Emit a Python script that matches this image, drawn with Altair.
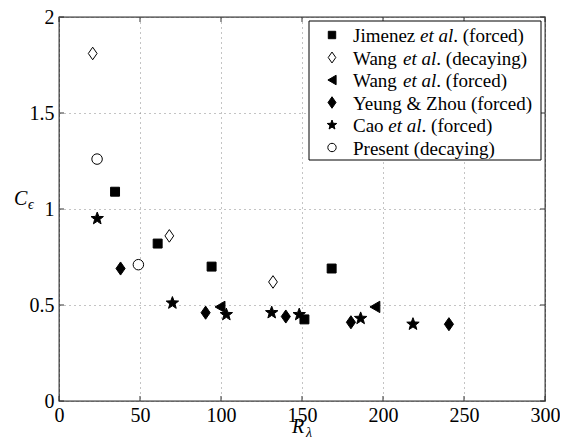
import math
import altair as alt
import pandas as pd

FONT = "'Liberation Serif', 'Times New Roman', 'DejaVu Serif', serif"
W, H = 486, 384

# ---- data ----
jim_x = [34.6, 60.9, 94.2, 151.5, 168.3]
jim_y = [1.09, 0.82, 0.70, 0.425, 0.69]
wdec_x = [20.8, 68.1, 132.1]
wdec_y = [1.81, 0.86, 0.62]
wfor_x = [99.4, 195.0]
wfor_y = [0.49, 0.49]
yz_x = [38.0, 90.5, 140.0, 180.2, 240.7]
yz_y = [0.69, 0.46, 0.44, 0.41, 0.40]
cao_x = [23.6, 70.0, 103.3, 131.3, 148.3, 186.2, 218.5]
cao_y = [0.95, 0.51, 0.45, 0.46, 0.45, 0.43, 0.40]
pres_x = [23.5, 49.0]
pres_y = [1.26, 0.71]

x_ticks = [0, 50, 100, 150, 200, 250, 300]
y_ticks = [0, 0.5, 1, 1.5, 2]

legend_rows = [
    [("Jimenez ", "normal"), ("et al", "italic"), (". (forced)", "normal")],
    [("Wang ", "normal"), ("et al", "italic"), (". (decaying)", "normal")],
    [("Wang ", "normal"), ("et al", "italic"), (". (forced)", "normal")],
    [("Yeung & Zhou (forced)", "normal")],
    [("Cao ", "normal"), ("et al", "italic"), (". (forced)", "normal")],
    [("Present (decaying)", "normal")],
]

# ---- marker shapes ----
def star_path():
    pts = []
    for k in range(10):
        a = math.radians(-90 + 36 * k)
        r = 1.0 if k % 2 == 0 else 0.42
        pts.append(f"{r*math.cos(a):.3f},{r*math.sin(a):.3f}")
    return "M" + "L".join(pts) + "Z"

STAR = star_path()
DIAMOND = "M0,-1.15L0.8,0L0,1.15L-0.8,0Z"

series = [
    dict(x=jim_x, y=jim_y, shape="square", filled=True, size=80, lsize=55),
    dict(x=wdec_x, y=wdec_y, shape=DIAMOND, filled=False, size=120, lsize=90),
    dict(x=wfor_x, y=wfor_y, shape="triangle-left", filled=True, size=130, lsize=90),
    dict(x=yz_x, y=yz_y, shape=DIAMOND, filled=True, size=130, lsize=100),
    dict(x=cao_x, y=cao_y, shape=STAR, filled=True, size=170, lsize=100),
    dict(x=pres_x, y=pres_y, shape="circle", filled=False, size=110, lsize=70),
]

xs = alt.Scale(domain=[0, 300], nice=False)
ys = alt.Scale(domain=[0, 2], nice=False)

layers = []

# axes + grid
axes = alt.Chart(pd.DataFrame({"x": [0], "y": [0]})).mark_point(opacity=0).encode(
    x=alt.X("x:Q", scale=xs, axis=alt.Axis(values=x_ticks, title=None, grid=True,
            gridDash=[1, 4], gridColor="#888", gridWidth=1, domain=False, ticks=False,
            labelFont=FONT, labelFontSize=20, labelColor="black", labelPadding=4,
            format="d", labelFlush=False)),
    y=alt.Y("y:Q", scale=ys, axis=alt.Axis(values=y_ticks, title=None, grid=True,
            gridDash=[1, 4], gridColor="#888", gridWidth=1, domain=False, ticks=False,
            labelFont=FONT, labelFontSize=20, labelColor="black", labelPadding=5,
            format="~g", labelFlush=False)),
)
layers.append(axes)

# inward ticks on all four sides
xt = pd.DataFrame({"v": x_ticks})
yt = pd.DataFrame({"v": y_ticks})
tick_style = dict(color="#333", strokeWidth=1)
layers.append(alt.Chart(xt).mark_rule(**tick_style).encode(
    x=alt.X("v:Q", scale=xs), y=alt.value(H), y2=alt.value(H - 5)))
layers.append(alt.Chart(xt).mark_rule(**tick_style).encode(
    x=alt.X("v:Q", scale=xs), y=alt.value(0), y2=alt.value(5)))
layers.append(alt.Chart(yt).mark_rule(**tick_style).encode(
    y=alt.Y("v:Q", scale=ys), x=alt.value(0), x2=alt.value(5)))
layers.append(alt.Chart(yt).mark_rule(**tick_style).encode(
    y=alt.Y("v:Q", scale=ys), x=alt.value(W), x2=alt.value(W - 5)))

# data points
for s in series:
    df = pd.DataFrame({"x": s["x"], "y": s["y"]})
    mk = dict(shape=s["shape"], size=s["size"], strokeWidth=1, opacity=1)
    if s["filled"]:
        mk.update(filled=True, fill="black", stroke="black")
    else:
        mk.update(filled=False, stroke="black", fill="white", fillOpacity=1)
    layers.append(alt.Chart(df).mark_point(**mk).encode(
        x=alt.X("x:Q", scale=xs), y=alt.Y("y:Q", scale=ys)))

# legend box
one = pd.DataFrame({"a": [0]})
layers.append(alt.Chart(one).mark_rect(fill="white", stroke="black", strokeWidth=1).encode(
    x=alt.value(250), x2=alt.value(482), y=alt.value(4), y2=alt.value(143)))

REG = {' ': 250, '&': 778, '(': 333, ')': 333, '.': 250, 'C': 667, 'J': 389, 'P': 556,
       'W': 944, 'Y': 722, 'Z': 611, 'a': 444, 'c': 444, 'd': 500, 'e': 444, 'f': 333,
       'g': 500, 'h': 500, 'i': 278, 'm': 778, 'n': 500, 'o': 500, 'r': 333, 's': 389,
       't': 278, 'u': 500, 'y': 500, 'z': 444, 'l': 278, 'k': 500, 'p': 500}
ITA = {' ': 250, 'e': 444, 't': 278, 'a': 500, 'l': 278}
LFS = 19

def seg_width(txt, style):
    tab = ITA if style == "italic" else REG
    return sum(tab.get(c, 500) for c in txt) * LFS / 1000.0

for i, (s, row) in enumerate(zip(series, legend_rows)):
    yy = 18 + 22.5 * i
    mk = dict(shape=s["shape"], size=s["lsize"], strokeWidth=1, opacity=1)
    if s["filled"]:
        mk.update(filled=True, fill="black", stroke="black")
    else:
        mk.update(filled=False, stroke="black")
    layers.append(alt.Chart(one).mark_point(**mk).encode(x=alt.value(273), y=alt.value(yy)))
    xpos = 294.0
    for txt, style in row:
        layers.append(alt.Chart(pd.DataFrame({"t": [txt]})).mark_text(
            align="left", baseline="middle", font=FONT, fontSize=LFS, fontStyle=style,
            color="black").encode(text="t:N", x=alt.value(xpos), y=alt.value(yy + 1)))
        xpos += seg_width(txt, style)

# axis titles
def txt_layer(t, x, y, size, style="italic"):
    return alt.Chart(pd.DataFrame({"t": [t]})).mark_text(
        align="left", baseline="alphabetic", font=FONT, fontSize=size, fontStyle=style,
        color="black").encode(text="t:N", x=alt.value(x), y=alt.value(y))

layers.append(txt_layer("R", 233, 416, 20))
layers.append(txt_layer("λ", 247, 420, 14))
layers.append(txt_layer("C", -45, 188, 20))
layers.append(txt_layer("ϵ", -31, 192, 14))

chart = alt.layer(*layers).properties(
    width=W, height=H,
    autosize=alt.AutoSizeParams(type="none"),
    padding={"left": 51, "top": 9, "right": 15, "bottom": 38},
).configure_view(stroke="#333", strokeWidth=1.3)

chart.save("out.html", embed_options={"renderer": "svg", "actions": False})
